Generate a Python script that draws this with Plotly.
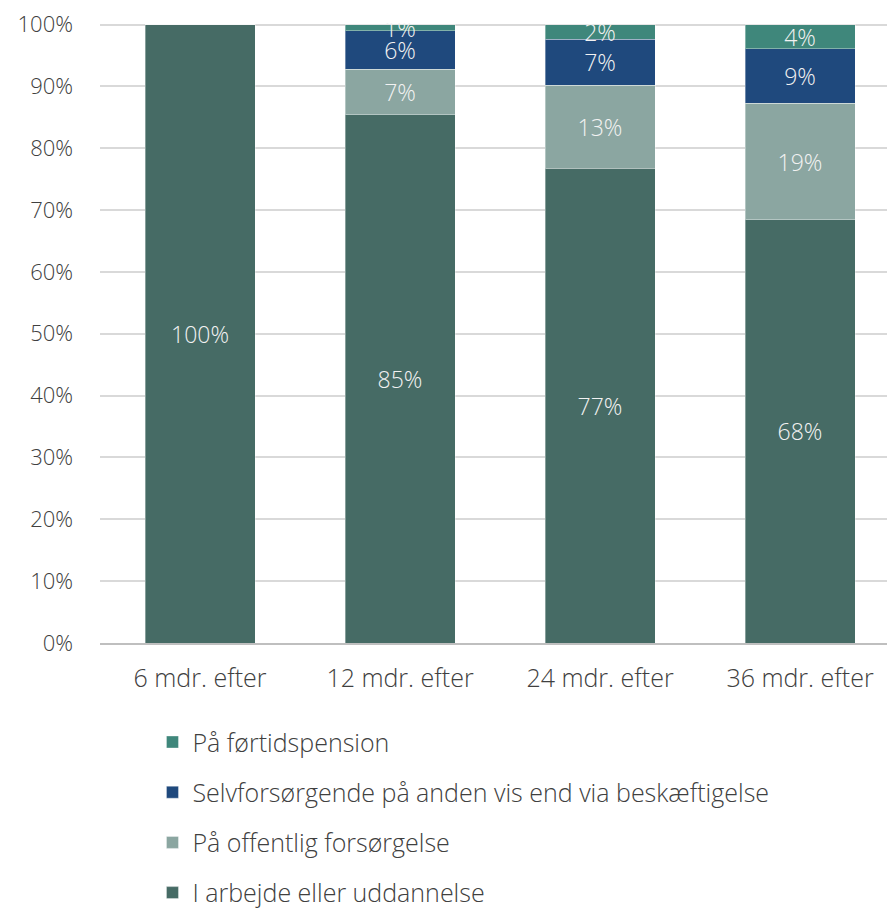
import plotly.graph_objects as go

categories = ["6 mdr. efter", "12 mdr. efter", "24 mdr. efter", "36 mdr. efter"]
arbejde = [100.0, 85.4, 76.8, 68.4]
offentlig = [0.0, 7.4, 13.4, 18.9]
selvforsorgende = [0.0, 6.2, 7.4, 8.8]
fortidspension = [0.0, 1.0, 2.4, 3.9]
y_ticks = [0, 10, 20, 30, 40, 50, 60, 70, 80, 90, 100]

series = [
    ("I arbejde eller uddannelse", arbejde, "#466B65"),
    ("På offentlig forsørgelse", offentlig, "#8BA6A1"),
    ("Selvforsørgende på anden vis end via beskæftigelse", selvforsorgende, "#1F497D"),
    ("På førtidspension", fortidspension, "#3F877B"),
]

FONT = "Segoe UI Light, Open Sans, Noto Sans, sans-serif"

fig = go.Figure()
for i, (name, vals, color) in enumerate(series):
    fig.add_trace(go.Bar(
        x=categories, y=vals, name=name,
        marker=dict(color=color, line=dict(color="rgba(255,255,255,0.35)", width=1)),
        text=[f"{round(v)}%" if v > 0 else "" for v in vals],
        textposition="inside", insidetextanchor="middle",
        constraintext="none", textangle=0,
        textfont=dict(color="#F2F2F2", size=23, family=FONT, weight=300),
        width=0.55, legendgroup=f"g{i}", legendrank=10 - i,
        hoverinfo="skip",
    ))

fig.update_layout(
    barmode="stack",
    width=887, height=900,
    margin=dict(l=92, r=0, t=15, b=265, autoexpand=False),
    paper_bgcolor="white", plot_bgcolor="white",
    font=dict(family=FONT, size=22, color="#404040", weight=300),
    showlegend=True,
    legend=dict(
        orientation="v", x=0.066, xanchor="left", y=-0.123, yanchor="top",
        traceorder="grouped", tracegroupgap=14.7,
        font=dict(size=25, color="#404040", family=FONT, weight=300),
        itemwidth=30,
    ),
    xaxis=dict(
        range=[-0.5, 3.475], showgrid=False, showline=True,
        linecolor="#BFBFBF", linewidth=1.5, ticks="",
        tickfont=dict(size=25, color="#404040"), ticklabelstandoff=12,
    ),
    yaxis=dict(
        range=[0, 100.25], tickvals=y_ticks, ticktext=[f"{t}%" for t in y_ticks],
        showgrid=True, gridcolor="#D9D9D9", gridwidth=1.5,
        zeroline=False, ticks="", ticklabelstandoff=26,
        ticklabeloverflow="allow",
        tickfont=dict(size=22, color="#404040"),
    ),
)

fig.write_html("out.html")
